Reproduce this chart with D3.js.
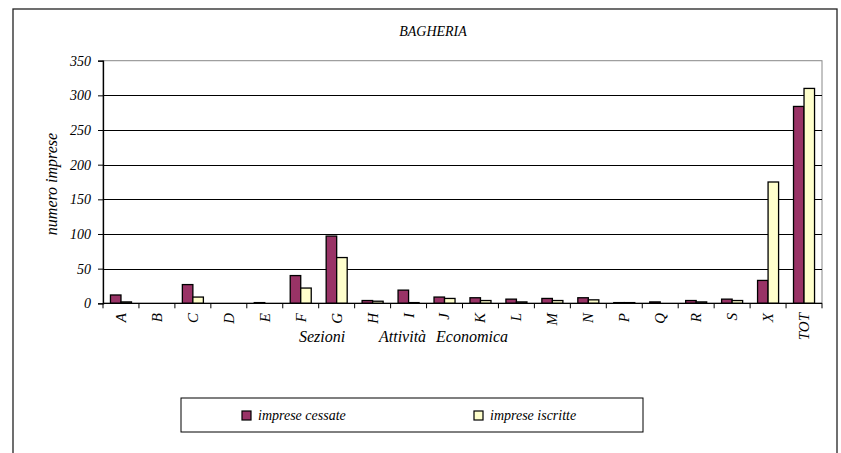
<!DOCTYPE html>
<html>
<head>
<meta charset="utf-8">
<script src="https://cdn.jsdelivr.net/npm/d3@7"></script>
<style>
html,body{margin:0;padding:0;background:#fff;}
svg{display:block;}
</style>
</head>
<body>
<svg id="chart" width="841" height="453"></svg>
<script>
const categories = ["A","B","C","D","E","F","G","H","I","J","K","L","M","N","P","Q","R","S","X","TOT"];
const cessate   = [12,0,27,0,1,40,97,4,19,9,8,6,7,8,1,2,4,6,33,284];
const iscritte  = [2,0,9,0,0,22,66,3,1,7,4,2,4,5,1,0,2,4,175,310];
const seriesNames = ["imprese cessate","imprese iscritte"];
const seriesColors = ["#993366","#FFFFCC"];
const yTicks = [0,50,100,150,200,250,300,350];
const chartTitle = "BAGHERIA";
const yTitle = "numero imprese";
const xTitleWords = ["Sezioni","Attività","Economica"];

(function(){
const svg = d3.select("#chart");
const FONT = '"Liberation Serif"';
const sty = (sel, size) => sel.style("font-family", FONT).style("font-style","italic")
  .style("font-size", size + "px").style("fill","#000");

// outer frame
svg.append("rect").attr("x",13).attr("y",9).attr("width",824).attr("height",460)
  .attr("fill","none").attr("stroke","#222").attr("stroke-width",1.3);

const pL = 103, pR = 822, pT = 60.7, pB = 303.3;
const x = d3.scaleBand().domain(categories).range([pL,pR]).padding(0);
const x1 = d3.scaleBand().domain([0,1]).range([0,x.bandwidth()]).paddingInner(0).paddingOuter(0.71);
const y = d3.scaleLinear().domain([0,350]).range([pB,pT]);

// plot frame (gray)
svg.append("rect").attr("x",pL).attr("y",pT).attr("width",pR-pL).attr("height",pB-pT)
  .attr("fill","none").attr("stroke","#888").attr("stroke-width",1);

// gridlines
svg.append("g").selectAll("line").data(yTicks.filter(d=>d>0 && d<350)).join("line")
  .attr("x1",pL).attr("x2",pR)
  .attr("y1",d=>Math.round(y(d))+0.5).attr("y2",d=>Math.round(y(d))+0.5)
  .attr("stroke","#000").attr("stroke-width",1);

// bars
const data = categories.map((c,i)=>({c, v:[cessate[i], iscritte[i]]}));
const g = svg.append("g");
data.forEach(d=>{
  d.v.forEach((v,k)=>{
    if (v<=0) return;
    g.append("rect")
      .attr("x", x(d.c)+x1(k))
      .attr("y", y(v))
      .attr("width", x1.bandwidth())
      .attr("height", pB - y(v))
      .attr("fill", seriesColors[k])
      .attr("stroke","#000").attr("stroke-width",1.3);
  });
});

// y axis
const yAxis = d3.axisLeft(y).tickValues(yTicks).tickSize(5).tickPadding(7);
const ya = svg.append("g").attr("transform",`translate(${pL},0)`).call(yAxis);
ya.select(".domain").attr("stroke","#000").attr("stroke-width",1.3);
ya.selectAll(".tick line").attr("stroke","#000");
sty(ya.selectAll(".tick text"), 14);

// x axis with ticks at band boundaries
const xa = svg.append("g");
xa.append("line").attr("x1",pL).attr("x2",pR).attr("y1",pB).attr("y2",pB)
  .attr("stroke","#000").attr("stroke-width",1.3);
const bounds = categories.map(c=>x(c)).concat([x(categories[categories.length-1])+x.bandwidth()]);
xa.selectAll("line.t").data(bounds).join("line").attr("class","t")
  .attr("x1",d=>d).attr("x2",d=>d).attr("y1",pB).attr("y2",pB+5)
  .attr("stroke","#000").attr("stroke-width",1);
sty(xa.selectAll("text").data(categories).join("text")
  .attr("transform",d=>`translate(${x(d)+x.bandwidth()/2},313) rotate(-90)`)
  .attr("text-anchor","end").attr("dy","0.33em").text(d=>d), 15);

// x title words
const xtPos = [299, 379, 436];
sty(svg.selectAll("text.xt").data(xTitleWords).join("text").attr("class","xt")
  .attr("x",(d,i)=>xtPos[i]).attr("y",342).text(d=>d), 16);

// y title
sty(svg.append("text").attr("transform","translate(57,184) rotate(-90)")
  .attr("text-anchor","middle").text(yTitle), 16);

// title
sty(svg.append("text").attr("x",433).attr("y",36).attr("text-anchor","middle")
  .text(chartTitle), 14);

// legend
svg.append("rect").attr("x",181).attr("y",398).attr("width",462).attr("height",34)
  .attr("fill","#fff").attr("stroke","#000").attr("stroke-width",1);
const legX = [242, 474];
seriesNames.forEach((n,k)=>{
  svg.append("rect").attr("x",legX[k]).attr("y",411).attr("width",9).attr("height",9)
    .attr("fill",seriesColors[k]).attr("stroke","#000").attr("stroke-width",1.2);
  sty(svg.append("text").attr("x",legX[k]+16).attr("y",420).text(n), 14);
});
})();
</script>
</body>
</html>
